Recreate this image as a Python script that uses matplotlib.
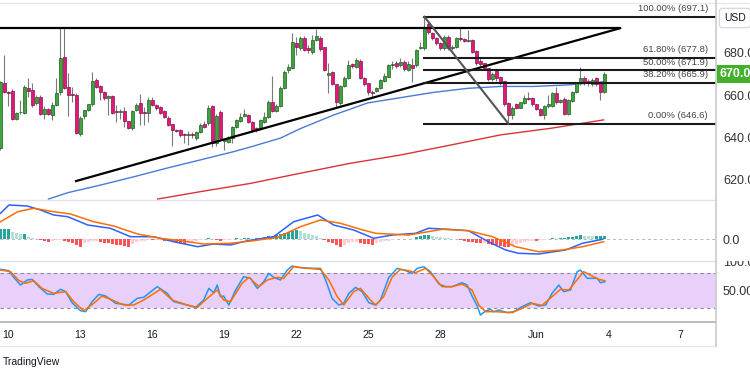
import numpy as np
import matplotlib.pyplot as plt
import matplotlib.transforms as mtransforms
from matplotlib.lines import Line2D

plt.rcParams['font.family'] = ['Liberation Sans', 'DejaVu Sans']

# 4h candles, first bar 9 May 16:00, last bar 3 Jun 20:00
opens = [635, 666, 661.5, 662, 649, 652, 651.5, 663.3, 662.5, 656.2,
         659.4, 651.2, 653.4, 650.7, 655.4, 661.4, 678.3, 664, 660.5, 660,
         641.6, 650, 653, 655.8, 667.2, 664.5, 661.4, 658.9, 659.7, 652.5,
         652.2, 652.6, 647.9, 644.7, 653.1, 656.2, 652.3, 651.5, 657.8, 655.4,
         654.6, 652.6, 649.4, 646.3, 643.6, 643.6, 641.9, 641.3, 641.9, 639.7,
         642.8, 646.3, 646.8, 655, 637.5, 652.3, 638.2, 638.1, 639.7, 645.2,
         647.9, 650.3, 650.7, 647.5, 644.4, 644.4, 647.5, 649.9, 656.7, 652.6,
         655.1, 663.6, 672, 673.1, 684.6, 682.2, 687.2, 682.2, 680.6, 686.1,
         687.2, 682.7, 669.6, 670.9, 665.2, 656.2, 664.6, 668, 674.6, 673.5,
         676.4, 668, 665.7, 661.6, 662, 663.3, 666.8, 668.8, 674.3, 675.1,
         674.3, 675.9, 672, 674.5, 674.3, 682.2, 682.2, 693.5, 689.3, 686.9,
         684.6, 682.2, 687.7, 682.2, 683, 686.9, 686.5, 685.7, 686.1, 681,
         676.2, 675.1, 672.8, 667.7, 671.5, 668.8, 666.8, 656.2, 650.7, 655.8,
         654.2, 656.2, 658.9, 658.6, 655.8, 653.5, 650.7, 654.8, 655.1, 661,
         657, 658.3, 651, 657.3, 661.4, 665.7, 668.3, 666.6, 665.2, 668,
         665.7, 661.7]
highs = [667, 679, 662, 663, 652, 657.8, 665, 668, 666, 660,
         660, 655, 654, 657, 668, 692.5, 692, 670.4, 664, 661,
         650, 653, 656, 671, 668, 665, 662, 660, 660, 655.4,
         653.5, 654.6, 648, 653, 656.6, 660.6, 654.6, 659.4, 659.4, 656,
         655, 653, 650, 646.5, 644, 644, 642, 643, 642.5, 643,
         647, 648, 655.4, 655.5, 651, 653, 640, 641, 645.5, 649,
         651.7, 653.4, 651, 648, 645, 649, 652.3, 658, 669.3, 656,
         664.5, 672, 674.6, 689.3, 687.7, 688, 688, 684, 688.5, 691.3,
         688, 683, 675.1, 671.5, 665.5, 665, 669, 676.7, 675.5, 677.4,
         677, 668.5, 666, 662.5, 664, 667.5, 670.4, 675, 676.2, 676,
         677.4, 676.5, 676, 677.5, 682, 685.3, 697.1, 695, 690, 687.5,
         685, 688.5, 688.5, 684, 687.5, 691.7, 687, 691, 686.5, 681.5,
         678, 675.5, 673, 671, 672, 669, 667, 657, 655, 656.5,
         657, 660, 661.7, 659, 656, 654, 655.5, 660, 661.5, 664.1,
         658.5, 659, 658.5, 662, 666.5, 673.5, 669, 667.5, 668, 668.5,
         666, 671.2]
lows = [634, 661, 655, 648.5, 648.5, 651, 651, 659, 654.5, 655.5,
        650.5, 649, 650.5, 648.5, 655, 660, 663, 650, 657, 641.5,
        641, 649, 652.5, 655, 663.5, 658, 658, 650.7, 651, 647.5,
        649, 645.2, 644, 643.6, 652.5, 646, 646, 647.5, 655, 653,
        651, 649.5, 645.5, 636, 642.5, 640.5, 637.3, 636.5, 640, 639,
        642, 644.8, 646, 635.8, 636, 638.5, 634.2, 637.5, 637.3, 644.5,
        647.5, 649.8, 647, 642.8, 642.5, 643.5, 647, 649.5, 652, 652,
        654.5, 663, 670.4, 672.5, 679, 681.5, 681, 680, 679.5, 685.5,
        681, 671.5, 661, 664.8, 654.6, 655.4, 664, 667.5, 673, 673,
        667.5, 664.5, 660, 658.6, 661.5, 663, 666.5, 668.5, 672.3, 672.8,
        673.5, 671.5, 671.5, 666.5, 673.5, 681.8, 681.5, 689, 686, 684,
        681.5, 681.5, 681.5, 681.5, 682.5, 685.5, 685, 685, 680, 674.5,
        673.5, 672, 667, 667, 667, 665, 655, 646.6, 649, 653.5,
        653.8, 655.8, 657.8, 655, 653, 650, 649, 654, 654.5, 656,
        656.5, 650.5, 650.5, 657, 661, 665, 665, 664.5, 664.5, 664.5,
        657.8, 661]
closes = [666.4, 661.5, 661, 649, 651.5, 652.3, 664, 662, 655.4, 659.4,
          651.3, 653.4, 651, 655.4, 661, 677.8, 663.6, 660, 660, 642,
          649.4, 653, 655.8, 666.8, 664, 661.4, 658.6, 659.7, 651.8, 652,
          652.5, 647.9, 644.7, 652.7, 655.4, 651.8, 651.5, 657.8, 655.4, 653.9,
          651.5, 649.9, 646, 643.6, 643.2, 641.3, 641.3, 641.5, 641.3, 642.8,
          646, 645.2, 653.9, 637.3, 650, 639.7, 639.5, 639.8, 645.2, 648.4,
          649.9, 651, 647.5, 643.6, 643.6, 648.4, 649.9, 656.7, 652.6, 655.1,
          663.6, 671.2, 673.5, 685.3, 682.7, 686.9, 681.4, 681.4, 686.1, 688.2,
          681.9, 672, 670.4, 665.2, 656.7, 664.4, 668.3, 674.3, 674, 676.7,
          668, 665.2, 661.4, 661.2, 663.3, 667.2, 669.3, 674.3, 674.6, 674,
          675.9, 672.4, 674.6, 673, 681.4, 683, 692, 690, 686.9, 684.6,
          682.2, 687.7, 682.2, 683, 686.9, 686.5, 685.7, 686.1, 680.6, 675.1,
          674.6, 672.8, 667.7, 669.9, 668, 665.7, 655.8, 650.7, 654.2, 654.2,
          656.7, 658.9, 658.4, 655.8, 653.5, 650.7, 655.1, 656, 661, 656.7,
          657.8, 651, 657.8, 661.4, 665.7, 668.3, 665.7, 666.2, 667.2, 665.2,
          661.4, 670]

# moving averages (bar index, price)
ma_blue_x = [12, 16.8, 25, 33.3, 41.8, 50, 58.3, 62.5, 70, 75, 83.3, 91.8,
             100, 108.3, 116.8, 125, 133.3, 141.8, 150.8]
ma_blue_y = [611.0, 614.0, 617.6, 621.5, 625.7, 629.5, 633.4, 635.6, 639.8,
             644.3, 650.7, 656.4, 658.9, 661.4, 663.3, 664.2, 664.2, 664.9, 666.4]
ma_red_x = [39.3, 50, 62.5, 75, 87.5, 100, 112.5, 125, 137.5, 150.8]
ma_red_y = [611.0, 614.5, 618.4, 623.2, 627.9, 631.8, 636.5, 641.3, 644.4, 648.4]

# drawings
resistance = 691.7
trend_x = [18.9, 154.9]
trend_y = [619.5, 691.7]
swing_high, swing_low = 697.1, 646.6
swing_high_idx, swing_low_idx = 106, 127
fib_levels = [1.0, 0.618, 0.5, 0.382, 0.0]

# MACD (bar index, value)
macd_x = [0, 2.1, 6.7, 10, 13.3, 16.8, 21.8, 27.5, 32.5, 38.3, 43.3, 49.3, 53.3,
          57.5, 61.8, 68.3, 73.3, 79.3, 83.3, 88.3, 93.3, 98, 103.8, 107, 112,
          117, 122, 126.3, 129.5, 134.5, 141.3, 145.5, 150.5]
macd_y = [26, 34.3, 33.3, 29.3, 24.3, 22.6, 14.3, 11, 2.6, 2.6, -2.4, -7.4, -4.7,
          -5.7, -1.4, 2.6, 17.6, 24.3, 14.3, 9.3, 1, 4.3, 6, 11, 10,
          8.6, -2.4, -10.7, -14, -14.7, -10.7, -4, 0]
signal_x = [0, 4.3, 8.3, 13.3, 17.5, 23.3, 28.3, 34.3, 40, 45, 50.8, 57.5, 63.3,
            69.3, 75, 80, 85, 90, 93.8, 102, 110.5, 117, 123, 128.8, 134.5,
            140.5, 145.5, 150.8]
signal_y = [17.6, 27.6, 31, 27.6, 25.3, 17.6, 13.3, 5.3, 1, -1.4, -4.7, -4, -1.4,
            2, 12.6, 19.3, 16, 10, 6, 4.3, 10, 8.6, 2.6, -7.4, -12.4,
            -10.7, -7.4, -2.4]
hist = [10, 10, 10, 7.7, 6.7, 5, 5.3, 2.7, 1, 0.3,
        -0.7, -1.7, -2.7, -1.3, -0.7, -0.3, -1.3, -2.3, -4, -6,
        -7.3, -4, -2.7, -1.3, -1.3, -2.3, -3.3, -4, -4.7, -5.3,
        -5.7, -6.7, -7.3, -4.7, -2.7, -2, -1.3, -0.7, -1, -1,
        -0.7, -1.3, -2, -2.7, -3.3, -4, -4.7, -4, -2.7, -2,
        -1, 0.7, 1, 0.3, -0.7, -1.3, -1, -0.3, 0.7, 1,
        0.7, 1, 1.3, 0.7, 1, 1.7, 2.3, 3, 3.7, 4.7,
        5.7, 6.7, 7.3, 8.7, 9.3, 8, 6.7, 5.3, 4, 3,
        1.7, -0.7, -2.3, -4, -6, -7.3, -5.7, -4, -3, -2.3,
        -3.3, -4.3, -5, -5.3, -4, -3, -2, -1.3, -0.7, 0.3,
        0.3, 0.2, 0.3, 0.7, 2, 3, 4, 4.3, 3.3, 2.7,
        2, 1.7, 1.3, 0.7, 0.3, -0.7, -1.3, -2.3, -3, -3.7,
        -4, -3.3, -4.7, -5.3, -6, -6.7, -7.7, -8, -6, -4.7,
        -3.3, -2.3, -1.7, -1.3, -1.7, -1, -0.3, 0.7, 1, 0.7,
        1, 1.7, 2, 2.7, 3.3, 4, 3.7, 3.3, 3, 3,
        3.3, 3.7]

# Stoch RSI (bar index, value)
k_x = [0, 2.1, 3.3, 5, 6.7, 7.9, 9.6, 11.7, 13.3, 15, 16.3, 17.9, 20, 21.3, 22.9,
       24.6, 26.3, 28.8, 32.1, 34.2, 35.8, 39.2, 41.7, 43.3, 46.7, 48.8, 50.8,
       52.1, 53.3, 54.2, 55, 55.8, 57.1, 58.8, 60.8, 62.5, 64.2, 65.8, 67.1,
       68.3, 70, 71.7, 72.9, 75, 78.3, 80, 81.3, 82.9, 84.6, 85.8, 87.1, 88.8,
       90.4, 92.1, 93.8, 95, 97.1, 99.2, 101.3, 102.9, 104.2, 105.8, 107.5,
       109.6, 111.3, 112.9, 115.4, 116.7, 117.9, 119.2, 120, 121.3, 122.5,
       123.3, 124.6, 126.7, 128.3, 130.4, 132.5, 134.6, 136.3, 137.9, 139.6,
       140.8, 142.5, 144.2, 145, 146.7, 149.2, 150, 151.1]
k_y = [86.3, 84, 72.6, 59.4, 68, 69.1, 56.6, 44, 43.4, 52, 48, 29.1, 15.4, 13.7,
       30.9, 43.4, 40.6, 28, 25.1, 36.6, 38.3, 56.6, 45.1, 30.9, 25.1, 21.1,
       33.7, 53.7, 46.3, 59.4, 39.4, 40.6, 25.1, 50.9, 73.7, 70.9, 53.7, 65.1,
       79.4, 72.6, 68, 85.1, 92, 89.1, 88, 88, 68, 36.6, 25.1, 28, 45.1, 55.4,
       48, 29.1, 25.1, 33.7, 72.6, 88, 84, 79.4, 88, 90.9, 82.3, 61.1, 56.6,
       56.6, 63.4, 59.4, 40.6, 23.4, 8, 14.9, 17.7, 13.7, 16.6, 12, 13.7,
       22.3, 29.1, 23.4, 25.1, 45.1, 59.4, 48, 50.9, 82.3, 85.1, 70.9, 70.9,
       63.4, 65.1]
d_x = [0, 2.5, 4.6, 6.3, 8.3, 10.4, 13.3, 16.3, 18.3, 20.8, 23.3, 25.4, 27.9,
       30.8, 33.3, 35.8, 40, 42.9, 46.7, 49.2, 51.7, 54.2, 55.8, 57.5, 60.4,
       62.1, 64.6, 66.7, 69.2, 70.8, 73.3, 76.7, 80, 82.1, 84.2, 85.8, 88.3,
       90, 92.5, 93.8, 95.8, 97.9, 100, 102.1, 103.8, 106.3, 108.3, 110.4,
       112.9, 115.4, 117.9, 119.6, 121.3, 123.8, 127.9, 130.4, 132.9, 135.4,
       137.9, 140, 142.1, 145.8, 147.9, 149.6, 151.1]
d_y = [85.1, 82.3, 66.9, 62.3, 66.9, 53.7, 45.1, 48, 30.9, 15.4, 28, 40.6, 33.7,
       25.1, 25.1, 33.7, 52, 33.7, 25.1, 21.1, 36.6, 50.9, 33.7, 30.9, 62.3,
       72.6, 56.6, 68, 72.6, 70.9, 90.9, 88, 86.3, 68, 39.4, 25.1, 48, 53.7,
       33.7, 25.1, 39.4, 72.6, 86.3, 84, 80.6, 88, 73.7, 56.6, 56.6, 61.1,
       50.9, 25.1, 13.7, 13.7, 12, 19.4, 28, 24.6, 39.4, 52, 50.9, 82.3, 74.9,
       69.1, 66.9]

# date axis: day offsets from 10 May, 6 bars per day, 10 May 00:00 = bar 2
day_offsets = [0, 3, 6, 9, 12, 15, 18, 22, 25, 28]
day_labels = ['10', '13', '16', '19', '22', '25', '28', 'Jun', '4', '7']

W, H = 750, 375


def fx(x):
    return x / W


def fy(y):
    return 1 - y / H


fig = plt.figure(figsize=(7.5, 3.75), dpi=100)
fig.patch.set_facecolor('white')

axw = 716 / W
ax = fig.add_axes([0, fy(200), axw, 197 / H])
ax_m = fig.add_axes([0, fy(261), axw, 61 / H])
ax_s = fig.add_axes([0, fy(322), axw, 61 / H])

xlim = (-0.125, 178.9)
for a in (ax, ax_m, ax_s):
    a.set_xlim(*xlim)
    for sp in a.spines.values():
        sp.set_visible(False)
    a.yaxis.tick_right()
    a.tick_params(axis='y', length=0, pad=5, labelsize=9, labelcolor='#333333')
    a.tick_params(axis='x', length=0)
    a.set_facecolor('none')

# ---- main price panel
ax.set_ylim(610.55, 703.62)
idx = np.arange(len(opens))
o = np.array(opens)
c = np.array(closes)
up = c >= o
ax.plot(ma_blue_x, ma_blue_y, color='#4a7bd4', lw=1.0, zorder=2)
ax.plot(ma_red_x, ma_red_y, color='#d8333b', lw=1.0, zorder=2)
ax.vlines(idx, lows, highs, color='#7a7a7a', lw=0.8, zorder=3)
body = np.maximum(np.abs(c - o), 0.35)
ax.bar(idx[up], body[up], bottom=np.minimum(o, c)[up], width=0.65,
       color='#3da33d', edgecolor='#1f5f22', lw=0.5, zorder=4)
ax.bar(idx[~up], body[~up], bottom=np.minimum(o, c)[~up], width=0.65,
       color='#e0187a', edgecolor='#8e0f4c', lw=0.5, zorder=4)

# triangle lines
ax.plot([xlim[0], trend_x[1]], [resistance, resistance], color='black', lw=1.6, zorder=5)
ax.plot(trend_x, trend_y, color='black', lw=1.6, zorder=5)

# fibonacci retracement
rng = swing_high - swing_low
blend = mtransforms.blended_transform_factory(ax.transAxes, ax.transData)
for lvl in fib_levels:
    p = swing_low + rng * lvl
    ax.plot([swing_high_idx, xlim[1]], [p, p], color='#1a1a1a', lw=1.5, zorder=5)
    ax.annotate(f'{lvl * 100:.2f}% ({p:.1f})', xy=(708 / 716, p), xycoords=blend,
                xytext=(0, 2.5), textcoords='offset points', ha='right', va='bottom',
                fontsize=6.8, color='#444444', zorder=6)
ax.plot([swing_high_idx, swing_low_idx], [swing_high, swing_low], color='#555555',
        lw=1.5, zorder=5)

ax.set_yticks([620, 640, 660, 680])
ax.set_yticklabels(['620.0', '640.0', '660.0', '680.0'])
ax.set_xticks([])

last = closes[-1]
ax.annotate(f'{last:.1f}', xy=(fx(720), last), xycoords=(fig.transFigure, ax.transData),
            ha='left', va='center', fontsize=9, fontweight='bold', color='white',
            bbox=dict(boxstyle='square,pad=0.25', fc='#43b02a', ec='none'),
            annotation_clip=False, zorder=10)
fig.text(fx(724), fy(18), 'USD', fontsize=7.5, color='#131722', ha='left', va='center',
         bbox=dict(boxstyle='round,pad=0.45,rounding_size=0.3', fc='white', ec='#d1d4dc', lw=0.8))

# ---- MACD panel
ax_m.set_ylim(-21.7, 39.3)
hv = np.array(hist)
cols = []
for i, h in enumerate(hv):
    prev = hv[i - 1] if i > 0 else h - 1
    if h >= 0:
        cols.append('#26a69a' if h >= prev else '#b2dfdb')
    else:
        cols.append('#ff5252' if h < prev else '#ffcdd2')
ax_m.axhline(0, color='#b8b8b8', lw=0.7, ls=(0, (3, 3)), zorder=1)
ax_m.bar(idx, hv, width=0.75, color=cols, zorder=2)
ax_m.plot(macd_x, macd_y, color='#2962ff', lw=1.1, zorder=3)
ax_m.plot(signal_x, signal_y, color='#ff6d00', lw=1.1, zorder=3)
ax_m.set_yticks([0])
ax_m.set_yticklabels(['0.0'])
ax_m.set_xticks([])

# ---- Stoch RSI panel
ax_s.set_ylim(-4.0, 100.6)
ax_s.axhspan(20, 80, color='#e8d0fb', lw=0, zorder=0)
for lv in (20, 80):
    ax_s.axhline(lv, color='#8a8a8a', lw=0.8, ls=(0, (3, 3)), zorder=1)
ax_s.plot(k_x, k_y, color='#2196f3', lw=1.1, zorder=3)
ax_s.plot(d_x, d_y, color='#ff6d00', lw=1.1, zorder=3)
ax_s.set_yticks([50, 100])
ax_s.set_yticklabels(['50.00', '100.00'])
ax_s.set_xticks([2 + 6 * d for d in day_offsets])
ax_s.set_xticklabels(day_labels)
ax_s.tick_params(axis='x', pad=5.5, labelsize=7.5, labelcolor='#131722')
clip = mtransforms.TransformedBbox(mtransforms.Bbox([[0, fy(322)], [1, fy(261)]]),
                                   fig.transFigure)
for t in ax_s.yaxis.get_major_ticks():
    t.label2.set_clip_box(clip)
    t.label2.set_clip_on(True)

# ---- pane separators
def hline(y, x0, x1, color, lw):
    fig.add_artist(Line2D([fx(x0), fx(x1)], [fy(y), fy(y)], color=color, lw=lw,
                          transform=fig.transFigure))


hline(3, 0, 750, '#e6e8ee', 1.0)
hline(200, 0, 716, '#e0e3eb', 1.0)
hline(261, 0, 716, '#e0e3eb', 1.0)
hline(322, 0, 716, '#b2b5be', 1.3)
hline(346, 0, 716, '#e6e8ee', 1.0)
fig.add_artist(Line2D([fx(716), fx(716)], [fy(0), fy(346)], color='#c9cbd1', lw=1.2,
                      transform=fig.transFigure))

fig.text(fx(3), fy(362), 'TradingView', fontsize=7.5, color='#131722', ha='left', va='center')

fig.savefig('out.png', dpi=100)
